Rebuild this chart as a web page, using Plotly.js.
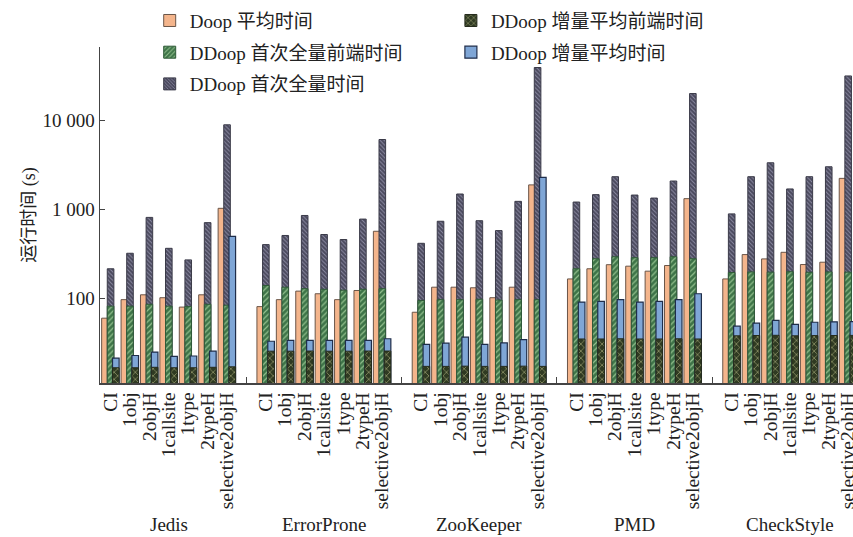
<!DOCTYPE html>
<html>
<head>
<meta charset="utf-8">
<script src="https://cdn.plot.ly/plotly-3.0.1.min.js"></script>
<style>html,body{margin:0;padding:0;background:#fff;}#chart{width:853px;height:537px;}</style>
</head>
<body>
<div id="chart"></div>
<script>
const projects = ["Jedis", "ErrorProne", "ZooKeeper", "PMD", "CheckStyle"];
const configs = ["CI", "1obj", "2objH", "1callsite", "1type", "2typeH", "selective2objH"];

// Doop 平均时间
const doopAvg = [
  [60, 97, 110, 102, 80, 110, 1035],
  [81, 97, 121, 113, 97, 123, 571],
  [70, 134, 134, 132, 102, 134, 1900],
  [166, 216, 240, 231, 203, 235, 1330],
  [166, 312, 279, 331, 241, 256, 2250]
];
// DDoop 首次全量前端时间
const firstFront = [
  [82, 82, 86, 82, 81, 86, 84],
  [140, 134, 129, 127, 124, 127, 129],
  [95, 97, 97, 98, 96, 97, 97],
  [216, 280, 295, 288, 288, 295, 280],
  [196, 199, 198, 200, 197, 199, 198]
];
// DDoop 首次全量时间
const firstTotal = [
  [216, 323, 818, 367, 272, 714, 9020],
  [404, 512, 860, 525, 461, 783, 6160],
  [418, 740, 1500, 751, 581, 1240, 39800],
  [1218, 1476, 2350, 1460, 1350, 2100, 20280],
  [896, 2350, 3370, 1710, 2350, 3040, 32000]
];
// DDoop 增量平均前端时间
const incrFront = [
  [16.6, 16.6, 16.8, 16.6, 16.6, 16.8, 17],
  [25.5, 25.5, 25.6, 25.5, 25.5, 25.6, 25.6],
  [17.2, 17.2, 17.3, 17.2, 17.2, 17.3, 17.2],
  [35, 35, 35.2, 35, 35, 35.2, 35],
  [38, 38.3, 38.5, 38, 38.2, 38.3, 38.4]
];
// DDoop 增量平均时间
const incrAvg = [
  [21.3, 22.8, 24.9, 22.3, 22.5, 25.5, 500],
  [33, 33.7, 33.7, 33.7, 33.7, 33.7, 35.2],
  [30.4, 31.4, 36.7, 30.4, 31.6, 34.5, 2310],
  [91, 93, 97, 91, 93, 97, 113],
  [48.8, 52.7, 56.6, 51, 54, 54.6, 55]
];

const seriesNames = ["Doop 平均时间", "DDoop 首次全量前端时间", "DDoop 首次全量时间", "DDoop 增量平均前端时间", "DDoop 增量平均时间"];

const FONT = "'Liberation Serif', 'Times New Roman', 'Noto Sans CJK SC', serif";
const groupStride = configs.length + 1;
const slots = [], tickText = [];
projects.forEach((p, pi) => configs.forEach((c, ci) => {
  slots.push(pi * groupStride + ci);
  tickText.push(c);
}));
const gapTicks = projects.slice(1).map((p, pi) => (pi + 1) * groupStride - 1);
const flat = arr => arr.flat();

const W = 0.34;
function bar(name, vals, offset, style, legend, rank) {
  return Object.assign({
    type: 'bar', name: name, x: slots, y: flat(vals),
    width: W, offset: offset, legend: legend, legendrank: rank,
    legendgroup: name, hoverinfo: 'skip'
  }, style);
}

const traces = [
  bar(seriesNames[0], doopAvg, -0.45, {marker: {color: '#f4b58c', line: {color: '#6a5548', width: 1}}}, 'legend', 1),
  bar(seriesNames[2], firstTotal, -0.16, {marker: {color: '#4b4a5e', line: {color: '#3a3a48', width: 1},
      pattern: {shape: '\\', fgcolor: '#8f8ea6', bgcolor: '#4b4a5e', size: 3, solidity: 0.3}}}, 'legend', 3),
  bar(seriesNames[1], firstFront, -0.16, {marker: {color: '#3e7448', line: {color: '#2f5a38', width: 1},
      pattern: {shape: '/', fgcolor: '#93c08e', bgcolor: '#3e7448', size: 4, solidity: 0.3}}}, 'legend', 2),
  bar(seriesNames[4], incrAvg, 0.11, {marker: {color: '#7fa6d6', line: {color: '#1f2d4a', width: 1.2}}}, 'legend2', 2),
  bar(seriesNames[3], incrFront, 0.11, {marker: {color: '#2f3a22', line: {color: '#252b1c', width: 1},
      pattern: {shape: 'x', fgcolor: '#9a9e70', bgcolor: '#2f3a22', size: 5, solidity: 0.25}}}, 'legend2', 1)
];

const annotations = projects.map((p, pi) => ({
  text: p, x: pi * groupStride + (configs.length - 1) / 2, xref: 'x',
  y: -0.42, yref: 'paper', yanchor: 'middle', showarrow: false,
  font: {family: FONT, size: 19, color: '#222'}
}));

const layout = {
  width: 853, height: 537,
  margin: {l: 100, r: 0, t: 47, b: 154},
  paper_bgcolor: '#fff', plot_bgcolor: '#fff',
  barmode: 'overlay',
  font: {family: FONT, size: 19, color: '#222'},
  xaxis: {
    range: [-0.535, 38.26], tickmode: 'array', tickvals: slots, ticktext: tickText,
    tickangle: -90, ticks: '', showgrid: false, zeroline: false,
    showline: true, linecolor: '#444', linewidth: 1.5,
    ticklabeloverflow: 'allow',
    tickfont: {family: FONT, size: 19.5, color: '#222'},
    minor: {tickmode: 'array', tickvals: gapTicks, ticks: 'inside', ticklen: 6, tickcolor: '#444', showgrid: false}
  },
  yaxis: {
    type: 'log', range: [1.0485, 4.831],
    tickmode: 'array', tickvals: [100, 1000, 10000], ticktext: ['100', '1 000', '10 000'],
    ticks: 'inside', ticklen: 5, tickcolor: '#444', showgrid: false, zeroline: false,
    showline: true, linecolor: '#444', linewidth: 1.5,
    tickfont: {family: FONT, size: 19, color: '#222'},
    title: {text: '运行时间 (s)', font: {family: FONT, size: 18, color: '#222'}, standoff: 2}
  },
  legend: {x: 0.066, xanchor: 'left', y: 1.135, yanchor: 'top', traceorder: 'grouped', tracegroupgap: 4,
    bgcolor: 'rgba(0,0,0,0)', font: {family: FONT, size: 19, color: '#222'}},
  legend2: {x: 0.466, xanchor: 'left', y: 1.135, yanchor: 'top', traceorder: 'grouped', tracegroupgap: 4,
    bgcolor: 'rgba(0,0,0,0)', font: {family: FONT, size: 19, color: '#222'}},
  annotations: annotations,
  showlegend: true
};

Plotly.newPlot('chart', traces, layout, {staticPlot: true, displayModeBar: false});
</script>
</body>
</html>
